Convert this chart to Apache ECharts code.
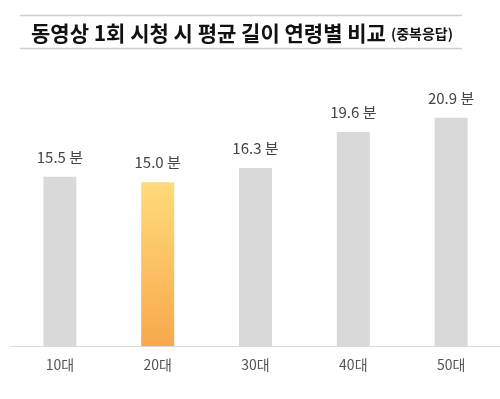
<!DOCTYPE html>
<html>
<head>
<meta charset="utf-8">
<script src="https://cdn.jsdelivr.net/npm/echarts@6/dist/echarts.min.js"></script>
<style>
html, body { margin: 0; padding: 0; background: #fff; }
#main { width: 500px; height: 399px; }
</style>
</head>
<body>
<div id="main"></div>
<script>
var ages = ['10대', '20대', '30대', '40대', '50대'];
var minutes = [15.5, 15.0, 16.3, 19.6, 20.9];
var highlight = '20대';
var titleText = '동영상 1회 시청 시 평균 길이 연령별 비교';
var titleNote = '(중복응답)';

var myChart = echarts.init(document.getElementById('main'));

var barData = minutes.map(function (v, i) {
	if (ages[i] == highlight) {
		return {
			value: v,
			itemStyle: {
				color: new echarts.graphic.LinearGradient(0, 0, 0, 1, [
					{ offset: 0, color: '#FFDB7B' },
					{ offset: 1, color: '#F8A84C' }
				])
			}
		};
	}
	return v;
});

var option = {
	backgroundColor: '#fff',
	title: {
		text: '{main|' + titleText + '} {note|' + titleNote + '}',
		left: 26,
		top: 18,
		textStyle: {
			rich: {
				main: { fontFamily: 'Noto Sans CJK KR', fontWeight: 'bold', fontSize: 21, color: '#111' },
				note: { fontFamily: 'Noto Sans CJK KR', fontWeight: 'bold', fontSize: 14, color: '#111' }
			}
		}
	},
	graphic: [
		{ type: 'line', shape: { x1: 20, y1: 15.5, x2: 462, y2: 15.5 }, style: { stroke: '#cfcfcf', lineWidth: 1.5 } },
		{ type: 'line', shape: { x1: 20, y1: 48.5, x2: 462, y2: 48.5 }, style: { stroke: '#cfcfcf', lineWidth: 1.5 } }
	],
	grid: {
		left: 11,
		width: 492,
		top: 73,
		bottom: 53
	},
	xAxis: {
		type: 'category',
		data: ages,
		axisTick: { show: false },
		axisLine: { lineStyle: { color: '#d9d9d9', width: 1 } },
		axisLabel: {
			color: '#555',
			fontSize: 14,
			fontFamily: 'Noto Sans CJK KR',
			margin: 12
		}
	},
	yAxis: {
		type: 'value',
		min: 0,
		max: 25,
		show: false,
		splitLine: { show: false }
	},
	series: [{
		type: 'bar',
		data: barData,
		barWidth: 33,
		itemStyle: { color: '#d9d9d9' },
		label: {
			show: true,
			position: 'top',
			distance: 12,
			color: '#444',
			fontSize: 15,
			fontFamily: 'Noto Sans CJK KR',
			formatter: function (p) {
				return p.value.toFixed(1) + ' 분';
			}
		}
	}]
};

myChart.setOption(option);
</script>
</body>
</html>
